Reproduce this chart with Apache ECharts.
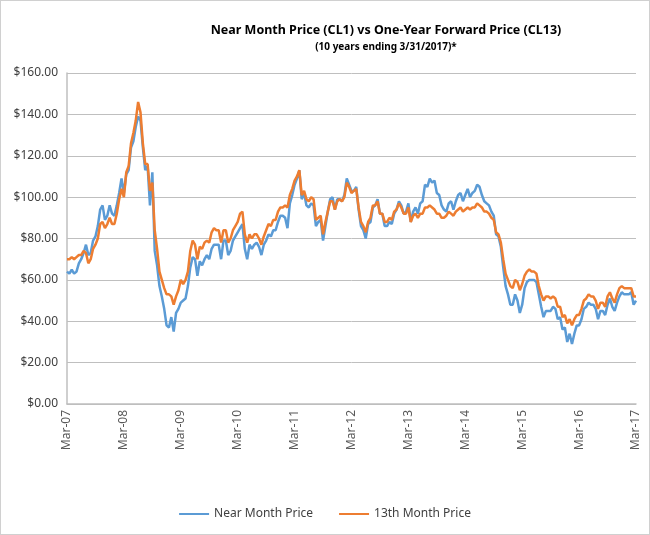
<!DOCTYPE html>
<html style="height: 100%">
<head>
<meta charset="utf-8">
<title>Near Month vs 13th Month</title>
<script src="https://cdn.jsdelivr.net/npm/echarts@6/dist/echarts.min.js"></script>
</head>
<body style="height: 100%; margin: 0; background: #fff">
<div id="main" style="width: 648px; height: 533px; border: 1px solid #d0d0d0"></div>
<script type="text/javascript">
// semi-monthly readings (mid + end of month), first point = end of Mar 2007
var tickLabels = ['Mar-07','Mar-08','Mar-09','Mar-10','Mar-11','Mar-12','Mar-13','Mar-14','Mar-15','Mar-16','Mar-17'];

var nearMonth = [64,
  63,65,63,64,68,70,73,77,72,73,79,81,86,94,96,89,91,96,92,91,96,102,109,102,
  111,113,124,127,134,139,137,124,113,115,96,112,74,67,57,52,46,38,37,42,35,44,46,49,
  50,51,57,66,71,70,62,69,67,70,72,70,75,77,77,77,70,79,79,72,74,79,81,83,
  85,87,75,70,77,75,77,78,76,72,77,79,82,81,84,84,88,91,91,90,85,97,101,106,
  109,113,99,102,96,95,97,96,86,88,89,79,86,93,99,100,94,99,99,98,101,109,106,103,
  103,105,94,86,84,80,87,88,95,96,99,92,92,86,86,88,87,92,94,98,96,92,93,97,
  88,93,95,92,97,98,106,105,109,107,108,102,101,96,94,93,97,98,94,98,101,102,98,101,
  104,100,102,103,106,105,101,98,97,96,93,91,82,81,76,66,57,53,48,48,53,50,44,48,
  56,59,60,60,60,59,53,47,42,45,45,45,47,46,41,42,36,37,30,34,29,34,38,38,
  41,46,47,49,48,48,46,41,45,45,43,48,51,47,45,49,52,54,53,53,53,54,48,50];

var month13 = [70,
  70,71,70,71,72,72,74,73,68,70,75,77,80,87,88,85,87,90,87,87,92,99,104,100,
  112,115,126,131,137,146,141,126,116,116,103,107,84,75,64,60,56,53,53,52,48,52,55,60,
  58,60,64,74,79,77,70,76,75,78,79,78,83,85,84,84,78,84,84,78,80,84,86,88,
  92,93,82,78,82,80,82,82,80,77,81,84,87,86,89,89,93,95,95,96,95,101,104,108,
  110,113,101,103,99,98,100,99,89,90,91,82,88,93,98,98,94,98,99,98,100,107,105,102,
  103,104,95,88,86,83,88,90,96,96,98,92,92,88,88,90,89,93,94,97,95,92,92,95,
  88,91,92,90,92,92,95,95,96,95,94,92,92,90,90,91,93,92,91,93,94,95,93,94,
  95,94,95,95,97,96,95,93,93,92,90,89,83,82,78,70,63,60,57,56,60,59,55,58,
  62,64,65,64,64,63,57,53,50,52,52,51,52,51,47,47,42,43,39,41,38,41,43,43,
  46,50,51,53,52,52,50,46,49,49,47,52,54,51,49,53,56,57,56,56,56,56,52,52];

// one category per reading; a year is 24 readings
var cats = [];
for (var i = 0; i < nearMonth.length; i++) {
  cats.push(i % 24 === 0 ? tickLabels[i / 24] : '');
}

var myChart = echarts.init(document.getElementById('main'));
var option = {
  backgroundColor: '#FFFFFF',
  animation: false,
  textStyle: { fontFamily: 'Noto Sans' },
  title: {
    text: 'Near Month Price (CL1) vs One-Year Forward Price (CL13)',
    subtext: '(10 years ending 3/31/2017)*',
    left: 380,
    top: 18,
    textAlign: 'center',
    itemGap: 5,
    textStyle: { fontSize: 12.5, fontWeight: 'bold', color: '#000' },
    subtextStyle: { fontSize: 10, fontWeight: 'bold', color: '#000' }
  },
  legend: {
    bottom: 9,
    left: 'center',
    icon: 'rect',
    itemWidth: 30,
    itemHeight: 2,
    itemGap: 26,
    textStyle: { fontSize: 12, color: '#404040' },
    data: ['Near Month Price', '13th Month Price']
  },
  grid: { left: 66, right: 13, top: 72, bottom: 130, containLabel: false },
  xAxis: {
    type: 'category',
    data: cats,
    boundaryGap: false,
    axisLine: { lineStyle: { color: '#bfbfbf', width: 1.5 } },
    axisTick: { show: false },
    axisLabel: {
      rotate: 90,
      interval: function (idx) { return idx % 24 === 0; },
      color: '#595959',
      fontSize: 12,
      margin: 6
    }
  },
  yAxis: {
    type: 'value',
    min: 0,
    max: 160,
    interval: 20,
    axisLine: { show: true, lineStyle: { color: '#bfbfbf', width: 1.5 } },
    axisTick: { show: false },
    splitLine: { lineStyle: { color: '#bfbfbf', width: 1 } },
    axisLabel: {
      color: '#404040',
      fontSize: 12,
      margin: 9,
      formatter: function (v) { return '$' + v.toFixed(2); }
    }
  },
  series: [
    {
      name: 'Near Month Price',
      type: 'line',
      data: nearMonth,
      showSymbol: false,
      symbol: 'none',
      lineStyle: { color: '#5B9BD5', width: 2.5 },
      itemStyle: { color: '#5B9BD5' }
    },
    {
      name: '13th Month Price',
      type: 'line',
      data: month13,
      showSymbol: false,
      symbol: 'none',
      lineStyle: { color: '#ED7D31', width: 2.5 },
      itemStyle: { color: '#ED7D31' }
    }
  ]
};
myChart.setOption(option);
</script>
</body>
</html>
